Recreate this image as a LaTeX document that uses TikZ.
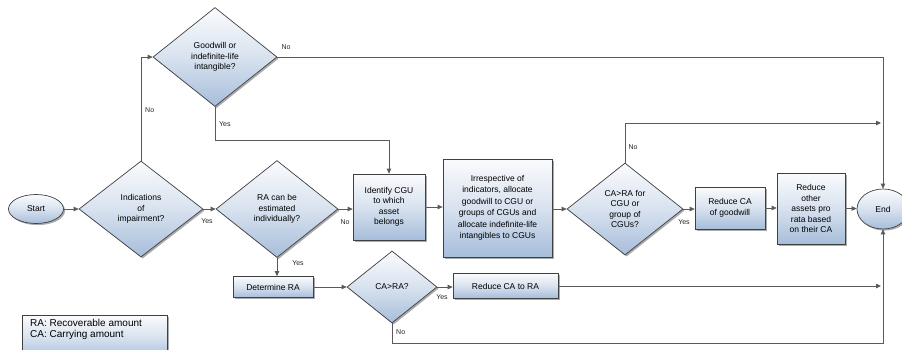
\documentclass[tikz,border=0pt]{standalone}
\usepackage{fontspec}
\setmainfont{Liberation Sans}
\usetikzlibrary{shapes.geometric,arrows.meta,shadows}
\definecolor{fillbot}{RGB}{166,189,218}
\definecolor{fillmid}{RGB}{216,226,239}
\definecolor{filltop}{RGB}{250,251,253}
\definecolor{edgec}{RGB}{64,64,64}
\definecolor{wirec}{RGB}{90,90,90}
\begin{document}
\begin{tikzpicture}[x=1pt,y=-1pt,
  base/.style={draw=edgec, line width=0.7pt, top color=filltop, bottom color=fillbot, middle color=fillmid,
    drop shadow={shadow xshift=1.6pt, shadow yshift=-1.6pt, fill=black!55, opacity=0.6},
    font=\fontsize{8.5}{10.5}\selectfont, align=center, inner sep=1pt},
  box/.style={base, rectangle},
  dia/.style={base, diamond, aspect=1.3, inner sep=0pt},
  term/.style={base, ellipse},
  wire/.style={draw=wirec, line width=0.75pt, -{Triangle[length=5pt,width=4.5pt]}},
  lbl/.style={font=\fontsize{7}{8}\selectfont, inner sep=0pt, text=black!85}
]
\useasboundingbox (0,0) rectangle (902,349);
\fill[white] (0,0) rectangle (902,349);

\node[term, minimum width=55pt, minimum height=29pt] (start) at (36,209) {Start};
\node[dia, minimum width=124pt, minimum height=96pt] (ind) at (141,209) {Indications\\of\\impairment?};
\node[dia, minimum width=122pt, minimum height=97pt] (rad) at (277,209) {RA can be\\estimated\\individually?};
\node[dia, minimum width=124pt, minimum height=99pt] (top) at (215,57) {Goodwill or\\indefinite-life\\intangible?};
\node[box, minimum width=72pt, minimum height=66pt] (cgu) at (389,207) {Identify CGU\\to which\\asset\\belongs};
\node[box, minimum width=109pt, minimum height=98pt, font=\fontsize{8.5}{11.5}\selectfont] (big) at (497.5,208) {Irrespective of\\indicators, allocate\\goodwill to CGU or\\groups of CGUs and\\allocate indefinite-life\\intangibles to CGUs};
\node[dia, minimum width=116pt, minimum height=92pt] (cac) at (625,209) {CA>RA for\\CGU or\\group of\\CGUs?};
\node[box, minimum width=70pt, minimum height=42pt] (rg) at (730,208) {Reduce CA\\of goodwill};
\node[box, minimum width=68pt, minimum height=71pt] (ro) at (811,208.5) {Reduce\\other\\assets pro\\rata based\\on their CA};
\node[term, minimum width=52pt, minimum height=40pt] (end) at (883,209) {End};
\node[box, minimum width=80pt, minimum height=21pt] (det) at (273,287) {Determine RA};
\node[dia, minimum width=90pt, minimum height=72pt] (car) at (392,287) {CA>RA?};
\node[box, minimum width=105pt, minimum height=25pt] (rr) at (505.5,286) {Reduce CA to RA};

\node[box, minimum width=145pt, minimum height=44pt, anchor=north west] (leg) at (22,315) {};
\node[anchor=north west, align=left, font=\fontsize{10}{11}\selectfont, inner sep=0pt] (legt) at (30,319) {RA: Recoverable amount\\CA: Carrying amount};

\coordinate (hiE) at (881,123);
\coordinate (loE) at (881,286);
\coordinate (bot) at (883,343);

\draw[wire] (start.east) -- (ind.west);
\draw[wire] (ind.north) -- (ind.north |- top.west) -- (top.west);
\node[lbl, anchor=west] at (145,110) {No};
\draw[wire] (top.east) -- (top.east -| end.north) -- (end.north);
\node[lbl] at (286,47) {No};
\draw[wire] (top.south) -- ++(0,34) -| (cgu.north);
\node[lbl, anchor=west] at (219,124) {Yes};
\draw[wire] (ind.east) -- (rad.west);
\node[lbl] at (207,221) {Yes};
\draw[wire] (rad.east) -- (rad.east -| cgu.west);
\node[lbl] at (345,222) {No};
\draw[wire] (rad.south) -- (rad.south |- det.north);
\node[lbl] at (298,263) {Yes};
\draw[wire] (cgu.east) -- (cgu.east -| big.west);
\draw[wire] (big.east |- cac.west) -- (cac.west);
\draw[wire] (cac.north) |- (hiE);
\node[lbl] at (633,147) {No};
\draw[wire] (cac.east) -- (cac.east -| rg.west);
\node[lbl] at (684,222) {Yes};
\draw[wire] (rg.east) -- (rg.east -| ro.west);
\draw[wire] (ro.east) -- (ro.east -| end.west);
\draw[wire] (det.east) -- (car.west);
\draw[wire] (car.east) -- (car.east -| rr.west);
\node[lbl] at (442,297) {Yes};
\draw[wire] (rr.east) -- (loE);
\draw[wire] (car.south) |- (bot) -- (end.south);
\node[lbl, anchor=west] at (396,332) {No};
\end{tikzpicture}
\end{document}
